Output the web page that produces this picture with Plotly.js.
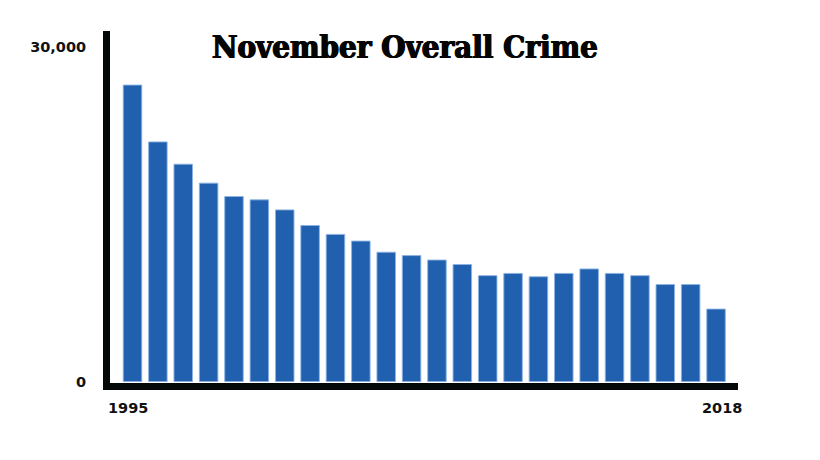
<!DOCTYPE html>
<html>
<head>
<meta charset="utf-8">
<script src="https://cdn.plot.ly/plotly-3.0.1.min.js"></script>
<style>html,body{margin:0;padding:0;background:#fff;}#chart{width:820px;height:460px;}</style>
</head>
<body>
<div id="chart"></div>
<script>
var years = ['1995','1996','1997','1998','1999','2000','2001','2002','2003','2004','2005','2006',
             '2007','2008','2009','2010','2011','2012','2013','2014','2015','2016','2017','2018'];
var crimes = [26600, 21500, 19500, 17800, 16600, 16300, 15400, 14000, 13200, 12600, 11600, 11300,
              10900, 10500, 9500, 9700, 9400, 9700, 10100, 9700, 9500, 8700, 8700, 6500];
var yTickVals = [0, 30000];
var yTickText = ['0', '30,000'];
var chartTitle = 'November Overall Crime';

var trace = {
  type: 'bar',
  x: years.map(function(d, i){ return i; }),
  y: crimes,
  marker: {color: '#2060ae', line: {color: 'rgba(140,178,226,0.9)', width: 1}},
  hoverinfo: 'skip'
};

var tickFont = {family: 'DejaVu Sans', size: 14.5, weight: 'bold', color: '#111'};

var layout = {
  width: 820, height: 460,
  margin: {l: 110, r: 82, t: 31, b: 77},
  paper_bgcolor: '#fff', plot_bgcolor: '#fff',
  showlegend: false,
  bargap: 0.27,
  font: {family: 'DejaVu Sans', color: '#111'},
  xaxis: {
    range: [-0.887, 23.866],
    showgrid: false, zeroline: false,
    showticklabels: false, ticks: '',
    showline: true, linecolor: '#050808', linewidth: 7
  },
  yaxis: {
    range: [-135, 31454],
    showgrid: false, zeroline: false,
    tickvals: yTickVals, ticktext: yTickText,
    ticks: '', ticklabelstandoff: 14,
    tickfont: tickFont,
    showline: true, linecolor: '#050808', linewidth: 7
  },
  annotations: [
    {xref: 'paper', yref: 'paper', x: 0.469, y: 1.0, xanchor: 'center', yanchor: 'top', yshift: 4,
     text: chartTitle, showarrow: false,
     font: {family: 'DejaVu Serif Condensed', size: 31, weight: 'bold', color: '#050505',
            shadow: '0.7px 0 0 #050505, -0.7px 0 0 #050505'}},
    {xref: 'x', yref: 'paper', x: 0, y: 0, xshift: -5, yshift: -25, yanchor: 'middle', xanchor: 'center',
     text: years[0], showarrow: false, font: tickFont},
    {xref: 'x', yref: 'paper', x: 23, y: 0, xshift: 6, yshift: -25, yanchor: 'middle', xanchor: 'center',
     text: years[23], showarrow: false, font: tickFont}
  ]
};

Plotly.newPlot('chart', [trace], layout, {staticPlot: true, displayModeBar: false});
</script>
</body>
</html>
